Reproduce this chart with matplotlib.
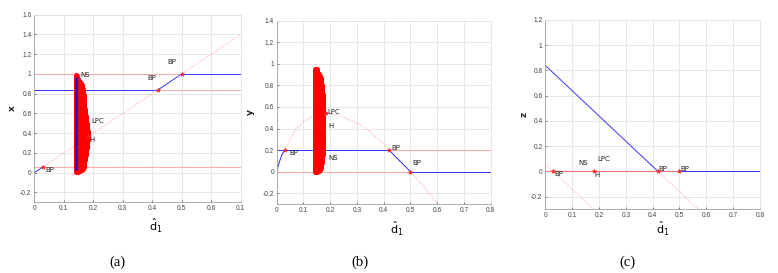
import matplotlib
matplotlib.use("Agg")
import matplotlib.pyplot as plt
import numpy as np

# ---------------- data ----------------
bp_d1 = [0.03, 0.42, 0.5]
hopf_d1 = 0.183

# panel (a): x
a_diag_d1 = [0.0, 0.03, 0.42, 0.5, 0.7]
a_diag_x = [0.0, 0.06, 0.84, 1.0, 1.4]
a_diag_stable = [True, False, True, False]
a_h084_d1 = [0.0, 0.42, 0.7]
a_h084_x = [0.84, 0.84, 0.84]
a_h084_stable = [True, False]
a_h1_d1 = [0.0, 0.5, 0.7]
a_h1_x = [1.0, 1.0, 1.0]
a_h1_stable = [False, True]
a_h006_d1 = [0.0, 0.7]
a_h006_x = [0.06, 0.06]
a_bp_x = [0.06, 0.84, 1.0]
a_hopf_x = 0.37
a_ns_d1 = 0.141
a_ns_x = [0.03, 0.97]
a_cyc_d1 = [0.143, 0.146, 0.149, 0.152, 0.155, 0.158, 0.161, 0.164, 0.167,
            0.170, 0.173, 0.176, 0.179, 0.182]
a_cyc_min = [0.01, 0.01, 0.01, 0.02, 0.02, 0.03, 0.03, 0.04, 0.06, 0.09,
             0.13, 0.18, 0.25, 0.33]
a_cyc_max = [0.985, 0.98, 0.95, 0.93, 0.915, 0.905, 0.89, 0.85, 0.79, 0.72,
             0.64, 0.57, 0.50, 0.42]

# panel (b): y
b_curve_d1 = [0, 0.01, 0.02, 0.03, 0.05, 0.07, 0.1, 0.14, 0.19, 0.23, 0.3, 0.35,
              0.39, 0.42, 0.46, 0.5, 0.55, 0.6]
b_curve_y = [0, 0.09, 0.16, 0.2, 0.3, 0.39, 0.465, 0.52, 0.54, 0.525, 0.45, 0.37,
             0.28, 0.2, 0.1, 0.0, -0.14, -0.29]
b_h02_d1 = [0.0, 0.42, 0.8]
b_h02_y = [0.2, 0.2, 0.2]
b_h02_stable = [True, False]
b_h0_d1 = [0.0, 0.5, 0.8]
b_h0_y = [0.0, 0.0, 0.0]
b_h0_stable = [False, True]
b_bp_y = [0.2, 0.2, 0.0]
b_lpc = (0.183, 0.54)
b_cyc_d1 = [0.143, 0.146, 0.149, 0.152, 0.155, 0.158, 0.161, 0.164, 0.167,
            0.170, 0.173]
b_cyc_min = [0.0, -0.005, 0.0, 0.0, 0.005, 0.01, 0.015, 0.03, 0.05, 0.08, 0.15]
b_cyc_max = [0.95, 0.955, 0.95, 0.93, 0.915, 0.905, 0.89, 0.87, 0.84, 0.80, 0.72]

# panel (c): z
c_d1_1 = [0.0, 0.42, 0.57]
c_z_1 = [0.84, 0.0, -0.3]
c_stable_1 = [True, False]
c_d1_2 = [0.0, 0.03, 0.18]
c_z_2 = [0.06, 0.0, -0.3]
c_d1_0 = [0.0, 0.5, 0.8]
c_z_0 = [0.0, 0.0, 0.0]
c_stable_0 = [False, True]
c_bp_z = [0.0, 0.0, 0.0]
c_hopf_z = 0.0

# ---------------- styles ----------------
BLUE = dict(color="#3535ff", lw=0.7)
RED = dict(color="#ff9e9e", lw=0.6)
REDDOT = dict(color="#ff8a8a", lw=0.6, ls=(0, (1, 1.6)))
LBL = dict(fontsize=5, family="DejaVu Sans", color="#222222")
SER = "Liberation Serif"

fig = plt.figure(figsize=(7.78, 2.73), dpi=100)
W, H = 778, 273


def mkax(l, r, t, b):
    return fig.add_axes([l / W, 1 - b / H, (r - l) / W, (b - t) / H])


def style(ax, xlim, ylim, yt, ytl, xt, xtl, ylab, xlab_x, xlab_y, ylab_x):
    ax.set_yticks(yt)
    ax.set_yticklabels(ytl)
    ax.set_xticks(xt)
    ax.set_xticklabels(xtl)
    ax.set_xlim(*xlim)
    ax.set_ylim(*ylim)
    ax.grid(True, color="#e3e3e3", lw=0.6)
    ax.set_axisbelow(True)
    for s in ["top", "right"]:
        ax.spines[s].set_color("#e3e3e3")
        ax.spines[s].set_linewidth(0.6)
    for s in ["left", "bottom"]:
        ax.spines[s].set_color("#a0a0a0")
        ax.spines[s].set_linewidth(0.6)
    ax.tick_params(labelsize=4.8, colors="#444444", length=1.5, width=0.5,
                   direction="in", pad=2)
    for t in ax.get_xticklabels() + ax.get_yticklabels():
        t.set_family("Liberation Sans")
    ax.set_xlabel(r"$\hat{\mathrm{d}}_1$", fontsize=8)
    ax.xaxis.set_label_coords(xlab_x, xlab_y)
    ax.set_ylabel(ylab, fontsize=6.5, fontweight="bold", family="DejaVu Sans",
                  color="#222222")
    ax.yaxis.set_label_coords(ylab_x, 0.5)


def segs(ax, d, v, stab, dotted=False):
    for i, s in enumerate(stab):
        st = BLUE if s else (REDDOT if dotted else RED)
        ax.plot(d[i:i + 2], v[i:i + 2], **st)


def star(ax, x, y):
    ax.plot(x, y, ls="none", marker="*", ms=3.2, color="#ff2020", mew=0.4,
            zorder=6)


XT8 = [0, 0.1, 0.2, 0.3, 0.4, 0.5, 0.6, 0.7, 0.8]
XTL8 = ["0", "0.1", "0.2", "0.3", "0.4", "0.5", "0.6", "0.7", "0.8"]

# ---------- (a) ----------
axa = mkax(34.3, 240.7, 14.7, 202.3)
segs(axa, a_h006_d1, a_h006_x, [False])
segs(axa, a_h084_d1, a_h084_x, a_h084_stable)
segs(axa, a_h1_d1, a_h1_x, a_h1_stable)
segs(axa, a_diag_d1, a_diag_x, a_diag_stable, dotted=True)
axa.vlines(a_cyc_d1, a_cyc_min, a_cyc_max, color="red", lw=3.6,
           capstyle="round", zorder=3)
axa.vlines([a_ns_d1], [a_ns_x[0]], [a_ns_x[1]], color="#1010e0", lw=1.8, zorder=4)
star(axa, bp_d1, a_bp_x)
star(axa, [hopf_d1], [a_hopf_x])
axa.text(0.155, 0.99, "NS", va="center", ha="left", zorder=7, **LBL)
axa.text(0.192, 0.52, "LPC", va="center", ha="left", **LBL)
axa.text(0.186, 0.33, "H", va="center", ha="left", **LBL)
axa.text(0.036, 0.03, "BP", va="center", ha="left", **LBL)
axa.text(0.383, 0.96, "BP", va="center", ha="left", **LBL)
axa.text(0.45, 1.12, "BP", va="center", ha="left", **LBL)
style(axa, (0, 0.7), (-0.3, 1.6),
      [-0.2, 0, 0.2, 0.4, 0.6, 0.8, 1, 1.2, 1.4, 1.6],
      ["-0.2", "0", "0.2", "0.4", "0.6", "0.8", "1", "1.2", "1.4", "1.6"],
      XT8[:8], ["0", "0.1", "0.2", "0.3", "0.4", "0.5", "0.6", "0.1"],
      "x", 0.59, -0.08, -0.085)

# ---------- (b) ----------
axb = mkax(276.7, 490.7, 20.7, 204.0)
segs(axb, b_h0_d1, b_h0_y, b_h0_stable)
segs(axb, b_h02_d1, b_h02_y, b_h02_stable)
bd = np.array(b_curve_d1)
by = np.array(b_curve_y)
stable_mask = (bd <= 0.03) | ((bd >= 0.42) & (bd <= 0.5))
for i in range(len(bd) - 1):
    s = stable_mask[i] and stable_mask[i + 1]
    st = BLUE if s else REDDOT
    axb.plot(bd[i:i + 2], by[i:i + 2], **st)
axb.vlines(b_cyc_d1, b_cyc_min, b_cyc_max, color="red", lw=3.6,
           capstyle="round", zorder=3)
star(axb, bp_d1, b_bp_y)
star(axb, [b_lpc[0]], [b_lpc[1]])
axb.text(0.047, 0.175, "BP", va="center", ha="left", **LBL)
axb.text(0.19, 0.556, "LPC", va="center", ha="left", **LBL)
axb.text(0.195, 0.424, "H", va="center", ha="left", **LBL)
axb.text(0.193, 0.125, "NS", va="center", ha="left", **LBL)
axb.text(0.428, 0.223, "BP", va="center", ha="left", **LBL)
axb.text(0.508, 0.08, "BP", va="center", ha="left", **LBL)
style(axb, (0, 0.8), (-0.3, 1.4),
      [-0.2, 0, 0.2, 0.4, 0.6, 0.8, 1, 1.2, 1.4],
      ["-0.2", "0", "0.2", "0.4", "0.6", "0.8", "1", "1.2", "1.4"],
      XT8, XTL8, "y", 0.56, -0.087, -0.1)

# ---------- (c) ----------
axc = mkax(545.3, 760.0, 20.0, 209.3)
segs(axc, c_d1_2, c_z_2, [False, False], dotted=True)
segs(axc, c_d1_1, c_z_1, c_stable_1, dotted=True)
for i, s in enumerate(c_stable_0):
    if s:
        axc.plot(c_d1_0[i:i + 2], c_z_0[i:i + 2], **BLUE)
    else:
        axc.plot(c_d1_0[i:i + 2], c_z_0[i:i + 2], color="#ff7575", lw=0.8)
star(axc, bp_d1, c_bp_z)
star(axc, [hopf_d1], [c_hopf_z])
axc.text(0.032, -0.02, "BP", va="center", ha="left", **LBL)
axc.text(0.183, -0.025, "H", va="center", ha="left", **LBL)
axc.text(0.125, 0.064, "NS", va="center", ha="left", **LBL)
axc.text(0.194, 0.096, "LPC", va="center", ha="left", **LBL)
axc.text(0.423, 0.017, "BP", va="center", ha="left", **LBL)
axc.text(0.502, 0.017, "BP", va="center", ha="left", **LBL)
style(axc, (0, 0.8), (-0.3, 1.2),
      [-0.2, 0, 0.2, 0.4, 0.6, 0.8, 1, 1.2],
      ["-0.2", "0", "0.2", "0.4", "0.6", "0.8", "1", "1.2"],
      XT8, XTL8, "z", 0.545, -0.053, -0.078)

# sub-captions
for cx, lab in [(117, "(a)"), (360, "(b)"), (627, "(c)")]:
    fig.text(cx / W, 1 - 262 / H, lab, ha="center", va="center",
             fontsize=10.5, family=SER)

fig.savefig("out.png", dpi=100)
